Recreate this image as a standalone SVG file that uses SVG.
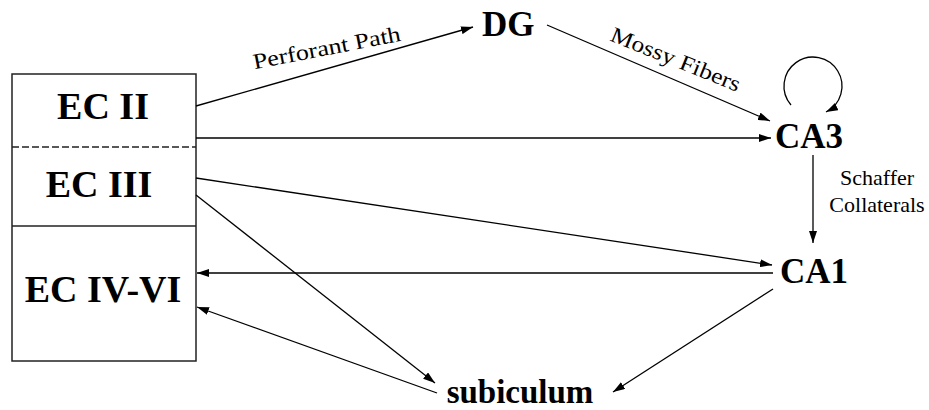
<svg xmlns="http://www.w3.org/2000/svg" width="929" height="410" viewBox="0 0 929 410">
<style>
text{font-family:'Liberation Serif','Times New Roman','DejaVu Serif',serif}
.node{font-weight:bold;fill:#000}
.lbl{fill:#000;font-size:22px}
.edge{stroke:#000;stroke-width:1.3;fill:none}
</style>
<defs>
<marker id="arr" viewBox="0 0 12 8" refX="12" refY="4" markerWidth="12" markerHeight="8" markerUnits="userSpaceOnUse" orient="auto">
<path d="M0,0 L12,4 L0,8 Z" fill="#000"/>
</marker>
</defs>
<rect width="929" height="410" fill="#fff"/>
<g id="EC">
<rect x="12" y="74" width="184" height="287" fill="none" stroke="#222" stroke-width="1.5"/>
<line x1="12" y1="147" x2="196" y2="147" stroke="#222" stroke-width="1.5" stroke-dasharray="7,3"/>
<line x1="12" y1="226" x2="196" y2="226" stroke="#222" stroke-width="1.5"/>
</g>
<g id="ECII"><text class="node" font-family="Liberation Serif, serif" x="103" y="119" font-size="38" text-anchor="middle">EC II</text></g>
<g id="ECIII"><text class="node" font-family="Liberation Serif, serif" x="99" y="197" font-size="38" text-anchor="middle">EC III</text></g>
<g id="ECIV-VI"><text class="node" font-family="Liberation Serif, serif" x="103" y="302" font-size="38" text-anchor="middle">EC IV-VI</text></g>
<g id="DG"><text class="node" font-family="Liberation Serif, serif" x="482" y="36" font-size="35">DG</text></g>
<g id="CA3"><text class="node" font-family="Liberation Serif, serif" x="775" y="148" font-size="35">CA3</text></g>
<g id="CA1"><text class="node" font-family="Liberation Serif, serif" x="780" y="283" font-size="35">CA1</text></g>
<g id="subiculum"><text class="node" font-family="Liberation Serif, serif" x="520" y="403" font-size="33" text-anchor="middle">subiculum</text></g>
<g id="connectors">
<line class="edge" x1="196" y1="106" x2="473" y2="27" marker-end="url(#arr)"/>
<line class="edge" x1="547" y1="25" x2="770" y2="121" marker-end="url(#arr)"/>
<line class="edge" x1="196" y1="138" x2="771" y2="138" marker-end="url(#arr)"/>
<path class="edge" d="M791 105 A29 29 0 1 1 826 112" marker-end="url(#arr)"/>
<line class="edge" x1="813" y1="155" x2="813" y2="243" marker-end="url(#arr)"/>
<line class="edge" x1="196" y1="178" x2="772" y2="265" marker-end="url(#arr)"/>
<line class="edge" x1="773" y1="273" x2="197" y2="273" marker-end="url(#arr)"/>
<line class="edge" x1="773" y1="289" x2="613" y2="392" marker-end="url(#arr)"/>
<line class="edge" x1="196" y1="195" x2="435" y2="383" marker-end="url(#arr)"/>
<line class="edge" x1="437" y1="393" x2="197" y2="307" marker-end="url(#arr)"/>
<text class="lbl" font-family="Liberation Serif, serif" transform="translate(328,55) rotate(-11)" text-anchor="middle" textLength="150" lengthAdjust="spacingAndGlyphs">Perforant Path</text>
<text class="lbl" font-family="Liberation Serif, serif" transform="translate(673,66) rotate(22)" text-anchor="middle" textLength="138" lengthAdjust="spacingAndGlyphs">Mossy Fibers</text>
<text class="lbl" font-family="Liberation Serif, serif" x="877" y="185" text-anchor="middle">Schaffer</text>
<text class="lbl" font-family="Liberation Serif, serif" x="877" y="212" text-anchor="middle">Collaterals</text>
</g>
</svg>
